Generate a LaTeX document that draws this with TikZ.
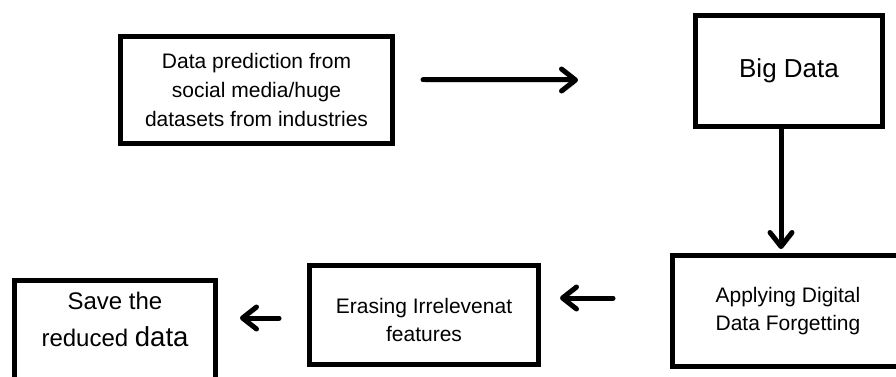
\documentclass[tikz,border=0pt]{standalone}
\usepackage{fontspec}
\setmainfont{Liberation Sans}
\usetikzlibrary{positioning,arrows.meta,calc,shadows}

\begin{document}
\begin{tikzpicture}[x=1pt, y=-1pt,
    >={Straight Barb[length=14pt,width=22pt,round]},
    box/.style={draw, line width=5pt, fill=white, align=center, inner sep=0pt,
                drop shadow={opacity=0.22, shadow xshift=2pt, shadow yshift=-2pt}},
    arr/.style={->, line width=5pt, line cap=round,
                preaction={draw, black, opacity=0.15, transform canvas={shift={(1.5pt,-2.5pt)}}}}]
  \clip (0,0) rectangle (896,377);
  % boxes
  \node[box, minimum width=272pt, minimum height=107pt,
        font=\fontsize{21}{29}\selectfont] (src) at (256.5,90)
        {Data prediction from\\social media/huge\\datasets from industries};
  \node[box, minimum width=187pt, minimum height=111pt,
        font=\fontsize{26}{30}\selectfont] (big) at (789,71) {Big Data};
  \node[box, minimum width=231pt, minimum height=111pt,
        font=\fontsize{21}{28}\selectfont] (forget) at (788,311)
        {Applying Digital\\Data Forgetting};
  \node[box, minimum width=229pt, minimum height=99pt, text height=53pt,
        font=\fontsize{21}{28}\selectfont] (erase) at (424,315)
        {Erasing Irrelevenat\\features};
  \node[box, minimum width=201pt, minimum height=110pt, text depth=32pt,
        font=\fontsize{24}{37}\selectfont] (save) at (115,335.5)
        {Save the\\reduced {\fontsize{27.5}{37}\selectfont data}};
  % arrows
  \draw[arr] ([shift={(28,-10)}]src.east) -- ([shift={(-115,9)}]big.west);
  \draw[arr] ([xshift=-8pt]big.south) -- ([xshift=-8pt,yshift=4pt]big.south |- forget.north);
  \draw[arr] ([shift={(-57,-13)}]forget.west) -- ([shift={(19,-17)}]erase.east);
  \draw[arr] ([shift={(-28,3)}]erase.west) -- ([shift={(22,-17.5)}]save.east);
\end{tikzpicture}
\end{document}
